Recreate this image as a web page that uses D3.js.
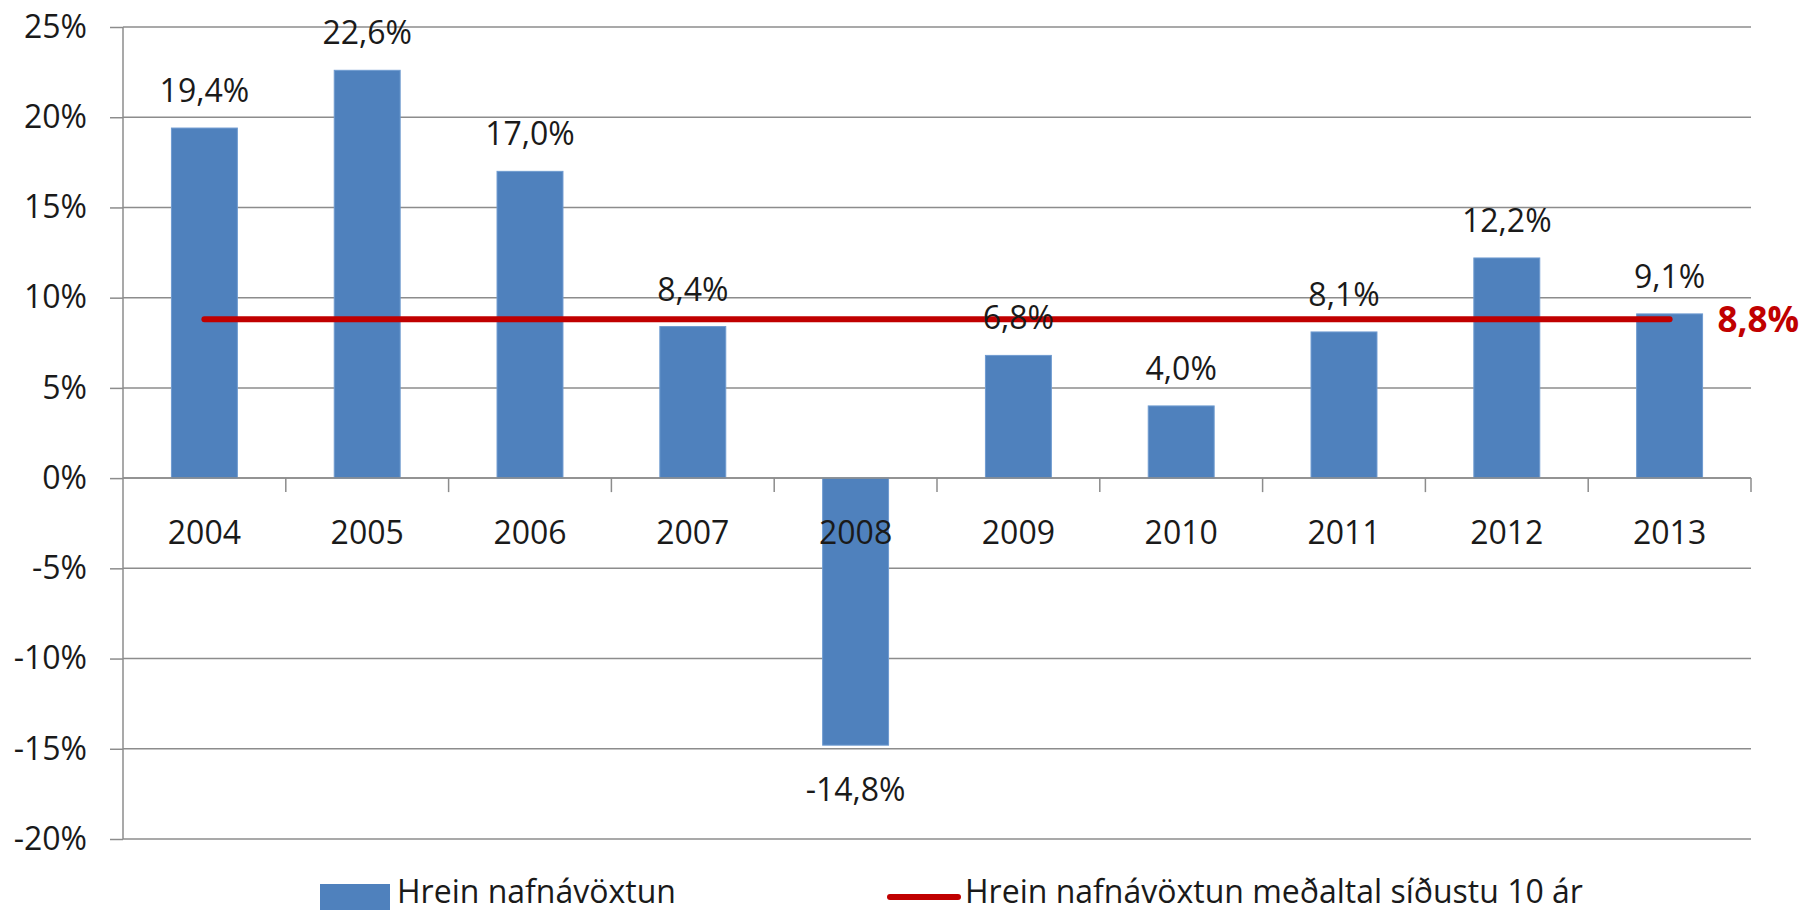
<!DOCTYPE html>
<html lang="is">
<head>
  <meta charset="UTF-8">
  <title>Hrein nafnávöxtun</title>
  <style>
    body { margin: 0; background: #fff; }
    svg text { font-family: "Open Sans", "Liberation Sans", sans-serif; fill: #1a1a1a; }
    .grid line, .axis path, .axis line { stroke: #8c8c8c; stroke-width: 1.5; }
  </style>
</head>
<body>
  <svg id="chart"></svg>

  <script src="https://cdn.jsdelivr.net/npm/d3@7"></script>
  <script>
    const years = ["2004", "2005", "2006", "2007", "2008", "2009", "2010", "2011", "2012", "2013"];
    const returns = [19.4, 22.6, 17.0, 8.4, -14.8, 6.8, 4.0, 8.1, 12.2, 9.1];
    const average = 8.8;
    const yTicks = [-20, -15, -10, -5, 0, 5, 10, 15, 20, 25];
    const legendLabels = ["Hrein nafnávöxtun", "Hrein nafnávöxtun meðaltal síðustu 10 ár"];

    const width = 1806, height = 913;
    const plot = { left: 123, right: 1751, top: 27, bottom: 839 };
    const fmt = v => v.toFixed(1).replace(".", ",") + "%";

    const svg = d3.select("#chart")
      .attr("width", width)
      .attr("height", height);

    const x = d3.scaleBand()
      .domain(years)
      .range([plot.left, plot.right])
      .paddingInner(0.595)
      .paddingOuter(0.2975);

    const y = d3.scaleLinear()
      .domain([-20, 25])
      .range([plot.bottom, plot.top]);

    // horizontal gridlines
    svg.append("g")
      .attr("class", "grid")
      .selectAll("line")
      .data(yTicks)
      .join("line")
      .attr("x1", plot.left)
      .attr("x2", plot.right)
      .attr("y1", d => y(d))
      .attr("y2", d => y(d));

    // y axis
    const yAxis = svg.append("g")
      .attr("class", "axis")
      .attr("transform", `translate(${plot.left},0)`)
      .call(d3.axisLeft(y).tickValues(yTicks).tickFormat(d => d + "%").tickSize(13).tickPadding(23));
    yAxis.select(".domain").attr("d", `M0,${plot.top}V${plot.bottom}`);
    yAxis.selectAll("text").attr("font-size", 32).attr("font-family", null).attr("fill", null);

    // bars
    svg.append("g")
      .selectAll("rect")
      .data(returns)
      .join("rect")
      .attr("x", (d, i) => x(years[i]))
      .attr("width", x.bandwidth())
      .attr("y", d => y(Math.max(0, d)))
      .attr("height", d => Math.abs(y(d) - y(0)))
      .attr("fill", "#4f81bd")
      .attr("stroke", "#6f9bd0")
      .attr("stroke-width", 1);

    // x axis at zero
    const xAxis = svg.append("g")
      .attr("class", "axis")
      .attr("transform", `translate(0,${y(0)})`)
      .call(d3.axisBottom(x).tickSize(0).tickPadding(0));
    xAxis.select(".domain").attr("d", `M${plot.left},0H${plot.right}`);
    xAxis.selectAll("text")
      .attr("y", 66)
      .attr("dy", null)
      .attr("font-size", 32)
      .attr("font-family", null)
      .attr("fill", null);

    const bounds = d3.range(years.length + 1).map(i => plot.left + i * x.step());
    xAxis.selectAll(".bound")
      .data(bounds.slice(1))
      .join("line")
      .attr("class", "bound")
      .attr("x1", d => d)
      .attr("x2", d => d)
      .attr("y1", 0)
      .attr("y2", 14);

    // average line
    const lineGen = d3.line()
      .x(d => x(d) + x.bandwidth() / 2)
      .y(() => y(average));
    svg.append("path")
      .datum([years[0], years[years.length - 1]])
      .attr("d", lineGen)
      .attr("fill", "none")
      .attr("stroke", "#c00000")
      .attr("stroke-width", 6)
      .attr("stroke-linecap", "round");

    svg.append("text")
      .attr("x", x(years[years.length - 1]) + x.bandwidth() / 2 + 48)
      .attr("y", y(average) + 13)
      .attr("font-size", 35)
      .attr("font-weight", "bold")
      .style("fill", "#c00000")
      .text(fmt(average));

    // data labels
    svg.append("g")
      .selectAll("text")
      .data(returns)
      .join("text")
      .attr("x", (d, i) => x(years[i]) + x.bandwidth() / 2)
      .attr("y", d => d >= 0 ? y(d) - 26 : y(d) + 56)
      .attr("text-anchor", "middle")
      .attr("font-size", 32)
      .text(d => fmt(d));

    // legend
    const legend = svg.append("g");
    legend.append("rect")
      .attr("x", 320).attr("y", 884)
      .attr("width", 70).attr("height", 26)
      .attr("fill", "#4f81bd");
    legend.append("text")
      .attr("x", 397).attr("y", 903)
      .attr("font-size", 32)
      .text(legendLabels[0]);
    legend.append("line")
      .attr("x1", 890).attr("x2", 958)
      .attr("y1", 897).attr("y2", 897)
      .attr("stroke", "#c00000")
      .attr("stroke-width", 6)
      .attr("stroke-linecap", "round");
    legend.append("text")
      .attr("x", 965).attr("y", 903)
      .attr("font-size", 32)
      .text(legendLabels[1]);
  </script>
</body>
</html>
